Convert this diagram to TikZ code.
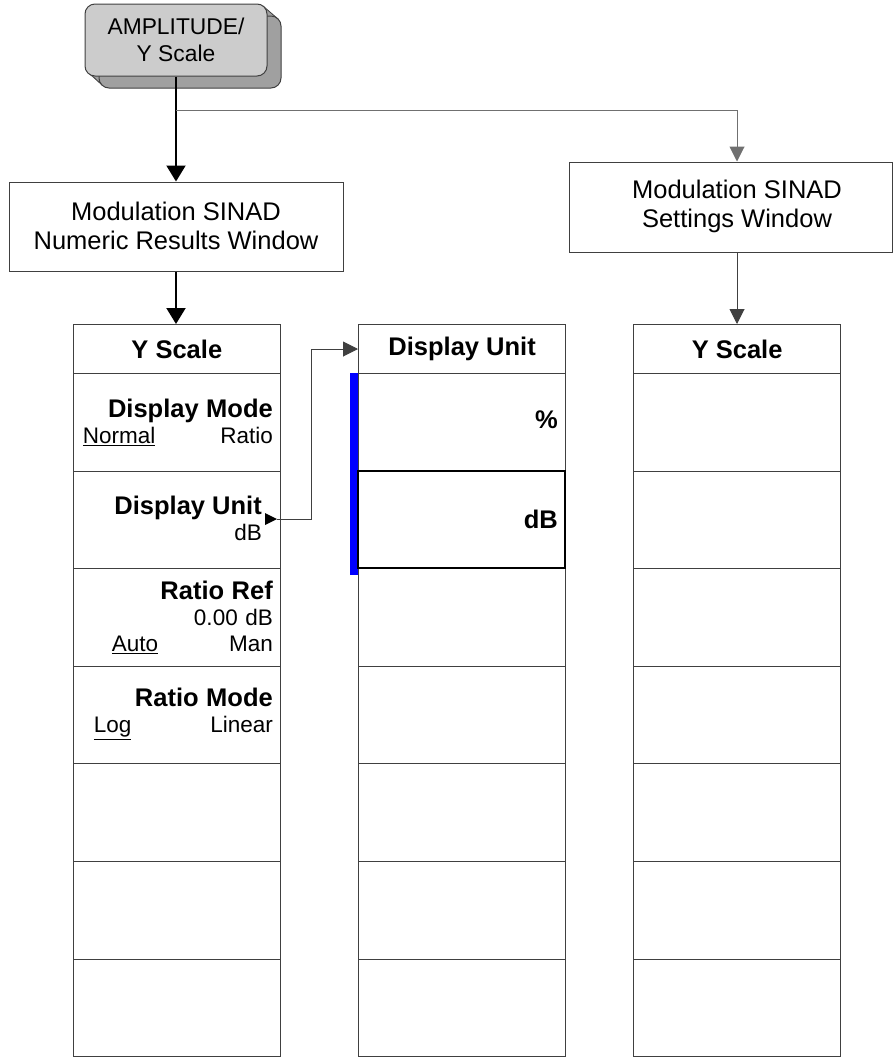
\documentclass[tikz,border=0pt]{standalone}
\usepackage{fontspec}
\setmainfont{Liberation Sans}
\usetikzlibrary{arrows.meta}
\definecolor{facegray}{HTML}{CCCCCC}
\definecolor{shadegray}{HTML}{A0A0A0}
\definecolor{linec}{HTML}{404040}
\definecolor{branchc}{HTML}{707070}
\definecolor{barblue}{HTML}{0000FF}
\begin{document}
\begin{tikzpicture}[x=1pt,y=-1pt,
  keybox/.style={draw=linec, line width=1pt, minimum width=207.3pt, minimum height=97.6pt, inner sep=0pt, anchor=north west},
  headbox/.style={keybox, minimum height=49pt, font=\fontsize{25.5}{28}\selectfont\bfseries},
  winbox/.style={draw=linec, line width=1pt, inner sep=0pt},
  wintext/.style={align=center, font=\fontsize{25.5}{29}\selectfont, inner sep=0pt},
  keytext/.style={anchor=east, align=right, inner sep=0pt, font=\fontsize{22.5}{26}\selectfont},
  bigkey/.style={anchor=east, inner sep=0pt, font=\fontsize{25.5}{28}\selectfont\bfseries},
  thickarrow/.style={line width=2pt, draw=black, -{Triangle[width=19pt,length=16pt]}},
  thinarrow/.style={line width=1pt, draw=linec, -{Triangle[width=15pt,length=15pt]}},
  ampface/.style={fill=facegray, draw=linec, line width=1pt, rounded corners=10pt, minimum width=182pt, minimum height=72pt, inner sep=0pt, align=center, font=\fontsize{22.8}{27}\selectfont}
]
\useasboundingbox (0,0) rectangle (893,1058);

% AMPLITUDE key with extruded shadow
\foreach \k in {0,...,14}
  \fill[shadegray, rounded corners=10pt] ({85+\k},{4+\k*12/14}) rectangle ({267+\k},{76+\k*12/14});
\draw[linec, line width=1pt, rounded corners=10pt] (99,16) rectangle (281,88);
\draw[linec, line width=0.8pt] (263,6) -- (278,19);
\draw[linec, line width=0.8pt] (88,72) -- (102,85);
\node[ampface] (amp) at (176,40) {AMPLITUDE/\\Y Scale};

% windows
\node[winbox, minimum width=334pt, minimum height=89pt] (num) at (176,226.5) {};
\node[wintext] (numlbl) at (176,226) {Modulation SINAD\\Numeric Results Window};
\node[winbox, minimum width=323pt, minimum height=90pt] (set) at (730.5,207) {};
\node[wintext] (setlbl) at (737,206) {Modulation SINAD\\Settings Window};

% columns
\node[headbox] (l0) at (72.7,324) {Y Scale};
\node[headbox] (m0) at (358,324) {Display Unit};
\node[headbox] (r0) at (633,324) {Y Scale};
\foreach \i in {1,...,7} {
  \node[keybox] (l\i) at (72.7,{373+(\i-1)*97.6}) {};
  \node[keybox] (m\i) at (358,{373+(\i-1)*97.6}) {};
  \node[keybox] (r\i) at (633,{373+(\i-1)*97.6}) {};
}

% blue bar and selected key
\fill[barblue] (350,373) rectangle (358,575);
\draw[black, line width=2pt] (358,471) rectangle (565.3,568);

% left column texts
\node[keytext, text width=190pt] (tdm) at (273,422) {{\fontsize{25.5}{26}\selectfont\bfseries Display Mode}\\\hspace*{0pt}\underline{Normal}\hfill Ratio};
\node[keytext] (tdu) at (262,518) {{\fontsize{25.5}{26}\selectfont\bfseries Display Unit}\\dB};
\fill[black] (265,513) -- (277,519) -- (265,525) -- cycle;
\coordinate (dutip) at (277,519);
\node[keytext, text width=190pt] (trr) at (273,617) {{\fontsize{25.5}{26}\selectfont\bfseries Ratio Ref}\\0.00 dB\\\hspace*{29pt}\underline{Auto}\hfill Man};
\node[keytext, text width=190pt] (trm) at (273,714) {{\fontsize{25.5}{26}\selectfont\bfseries Ratio Mode}\\\hspace*{11pt}\underline{Log}\hfill Linear};

% middle column texts
\node[bigkey] (tpct) at (558,420) {\%};
\node[bigkey] (tdb) at (558,519) {dB};

% connectors
\draw[thickarrow] (amp.south) -- (num.north);
\coordinate (br) at (176,110);
\draw[branchc, line width=1pt, -{Triangle[width=15pt,length=15pt]}] (br) -| (setlbl.center |- set.north);
\draw[thickarrow] (num.south) -- (num.south |- l0.north);
\draw[thinarrow] (setlbl.center |- set.south) -- (setlbl.center |- r0.north);
\draw[thinarrow] (dutip) -- ++(34,0) |- (m0.west);
\end{tikzpicture}
\end{document}
